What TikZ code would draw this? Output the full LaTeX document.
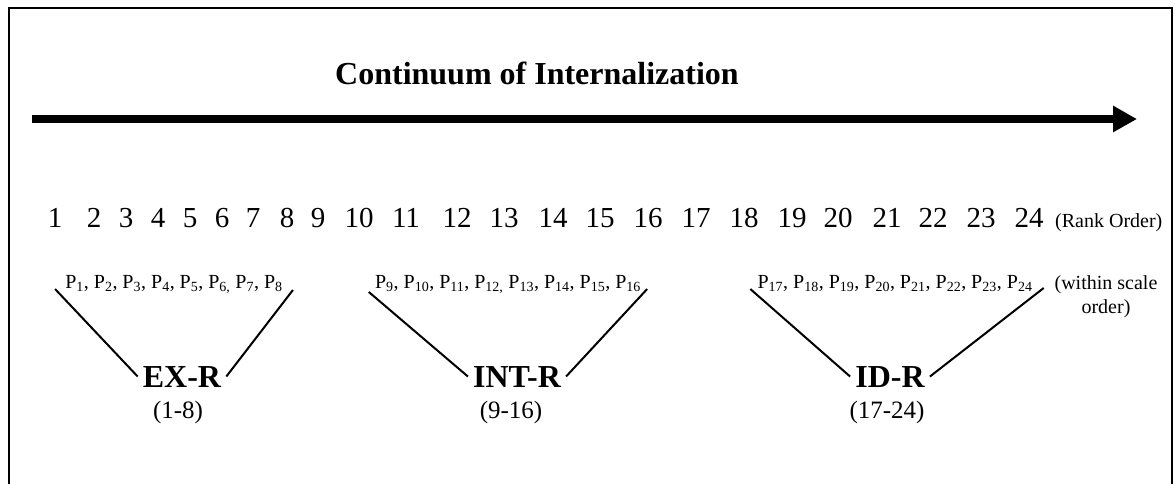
\documentclass[tikz,border=0pt]{standalone}
\usepackage{fontspec}
\setmainfont{Liberation Serif}
\usetikzlibrary{arrows.meta}
\tikzset{
  num/.style={font=\fontsize{29}{34}\selectfont, inner sep=0pt, anchor=base},
  small/.style={font=\fontsize{20}{24}\selectfont, inner sep=0pt, anchor=base},
  prow/.style={font=\fontsize{20}{24}\selectfont, inner xsep=0pt, inner ysep=0pt, anchor=base},
  grp/.style={font=\fontsize{32}{38}\selectfont\bfseries, inner xsep=5pt, inner ysep=0pt, anchor=base},
  rng/.style={font=\fontsize{25}{30}\selectfont, inner sep=0pt, anchor=base},
  ttl/.style={font=\fontsize{32}{38}\selectfont\bfseries, inner sep=0pt, anchor=base},
  conn/.style={line width=2pt},
  frame/.style={line width=2pt},
}
\begin{document}
\begin{tikzpicture}[x=1pt,y=-1pt]
\useasboundingbox (0,0) rectangle (1175,483);
\clip (0,0) rectangle (1175,483);
% frame
\draw[frame] (9,500) -- (9,8) -- (1172,8) -- (1172,500);
% title
\node[ttl] (title) at (537,84) {Continuum of Internalization};
% arrow
\coordinate (aS) at (32,119);
\coordinate (aE) at (1137,119);
\draw[line width=8pt, -{Triangle[length=24pt,width=25pt]}] (aS) -- (aE);
% rank numbers
\foreach \x/\n in {55/1,94/2,126/3,158/4,190/5,222/6,253/7,287/8,318/9,359/10,406/11,457/12,504/13,553/14,600/15,648/16,696/17,744/18,792/19,838/20,887/21,933/22,981/23,1029/24}
  \node[num] (n\n) at (\x,227) {\n};
\node[small, anchor=base west] (rank) at (1055,227) {(Rank Order)};
% P rows
\node[prow] (pA) at (174,288) {P\textsubscript{1}, P\textsubscript{2}, P\textsubscript{3}, P\textsubscript{4}, P\textsubscript{5}, P\textsubscript{6,} P\textsubscript{7}, P\textsubscript{8}};
\node[prow] (pB) at (508,288) {P\textsubscript{9}, P\textsubscript{10}, P\textsubscript{11}, P\textsubscript{12,} P\textsubscript{13}, P\textsubscript{14}, P\textsubscript{15}, P\textsubscript{16}};
\node[prow] (pC) at (895,288) {P\textsubscript{17}, P\textsubscript{18}, P\textsubscript{19}, P\textsubscript{20}, P\textsubscript{21}, P\textsubscript{22}, P\textsubscript{23}, P\textsubscript{24}};
\node[small, align=center] (wso) at (1106,313) {(within scale\\order)};
% group labels
\node[grp] (exr) at (182,387) {EX-R};
\node[rng] (r1) at (178,418) {(1-8)};
\node[grp] (intr) at (517,387) {INT-R};
\node[rng] (r2) at (511,418) {(9-16)};
\node[grp] (idr) at (890,387) {ID-R};
\node[rng] (r3) at (887,418) {(17-24)};
% connectors
\draw[conn] ([xshift=-10pt,yshift=-1pt]pA.base west) -- (exr.west);
\draw[conn] ([xshift=10pt,yshift=-2pt]pA.base east) -- (exr.east);
\draw[conn] ([xshift=-6pt,yshift=-4pt]pB.base west) -- (intr.west);
\draw[conn] ([xshift=6pt,yshift=-1pt]pB.base east) -- (intr.east);
\draw[conn] ([xshift=-7pt,yshift=-1pt]pC.base west) -- (idr.west);
\draw[conn] ([xshift=11pt]pC.base east) -- (idr.east);
\end{tikzpicture}
\end{document}
